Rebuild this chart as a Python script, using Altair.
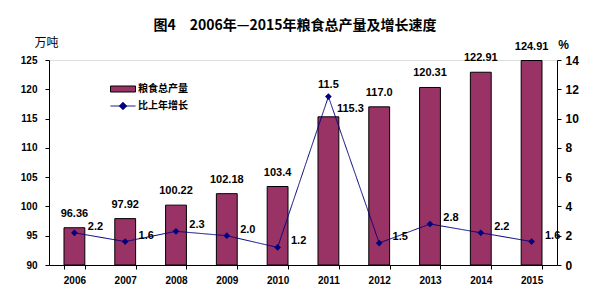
import altair as alt
import pandas as pd

years = ["2006", "2007", "2008", "2009", "2010", "2011", "2012", "2013", "2014", "2015"]
output = [96.36, 97.92, 100.22, 102.18, 103.4, 115.3, 117.0, 120.31, 122.91, 124.91]
output_labels = ["96.36", "97.92", "100.22", "102.18", "103.4", "115.3", "117.0", "120.31", "122.91", "124.91"]
growth = [2.2, 1.6, 2.3, 2.0, 1.2, 11.5, 1.5, 2.8, 2.2, 1.6]
growth_labels = ["2.2", "1.6", "2.3", "2.0", "1.2", "11.5", "1.5", "2.8", "2.2", "1.6"]
left_ticks = [90, 95, 100, 105, 110, 115, 120, 125]
right_ticks = [0, 2, 4, 6, 8, 10, 12, 14]

df = pd.DataFrame({
    "year": years,
    "output": output,
    "olab": output_labels,
    "growth": growth,
    "glab": growth_labels,
    "s1": ["粮食总产量"] * 10,
    "s2": ["比上年增长"] * 10,
})

NUM = "Liberation Sans"
CJK = "Noto Sans CJK SC"
BAR = "#993366"
LINE = "#000080"

x = alt.X("year:N", title=None, scale=alt.Scale(paddingInner=0.59, paddingOuter=0.295),
          axis=alt.Axis(labelAngle=0, labelFont=NUM, labelFontWeight="bold", labelFontSize=10,
                        labelColor="black", domainColor="black", tickColor="black",
                        tickBand="extent", tickSize=4, labelPadding=6))

yl_scale = alt.Scale(domain=[90, 125], zero=False, nice=False)
yl_axis = alt.Axis(values=left_ticks, labelOverlap=False, labelFont=NUM,
                   labelFontWeight="bold", labelFontSize=10, labelColor="black",
                   domainColor="black", tickColor="black", tickSize=4, labelPadding=8,
                   grid=False, title="万吨", titleAngle=0, titleX=-3, titleY=-18,
                   titleAlign="center", titleBaseline="middle", titleFont=CJK,
                   titleFontWeight="normal", titleFontSize=12, titleColor="black")

bars = alt.Chart(df).mark_bar(stroke="black", strokeWidth=1).encode(
    x=x,
    y=alt.Y("output:Q", scale=yl_scale, axis=yl_axis),
    y2=alt.datum(90),
    color=alt.Color("s1:N", scale=alt.Scale(domain=["粮食总产量"], range=[BAR]),
                    legend=alt.Legend(title=None, orient="none", legendX=61, legendY=16,
                                      symbolType="M-1,-0.24H1V0.24H-1Z", symbolSize=625,
                                      symbolStrokeColor="black", symbolStrokeWidth=1,
                                      labelFont=CJK, labelFontWeight="bold", labelFontSize=10,
                                      labelColor="black", labelOffset=2)),
)

bar_text = alt.Chart(df).transform_filter("datum.year != '2011'").mark_text(
    font=NUM, fontWeight="bold", fontSize=11, dy=-14, color="black").encode(
    x=x, y=alt.Y("output:Q", scale=yl_scale, axis=yl_axis), text="olab:N")

bar_text_2011 = alt.Chart(df).transform_filter("datum.year == '2011'").mark_text(
    font=NUM, fontWeight="bold", fontSize=11, dx=22, dy=-8, color="black").encode(
    x=x, y=alt.Y("output:Q", scale=yl_scale, axis=yl_axis), text="olab:N")

left = alt.layer(bars, bar_text, bar_text_2011)

yr_scale = alt.Scale(domain=[0, 14], nice=False)
yr_axis = alt.Axis(orient="right", values=right_ticks, labelOverlap=False, labelFont=NUM,
                   labelFontWeight="bold", labelFontSize=12, labelColor="black",
                   domainColor="black", tickColor="black", tickSize=4, labelPadding=4,
                   grid=False, title="%", titleAngle=0, titleX=6, titleY=-16,
                   titleAlign="center", titleBaseline="middle", titleFont=NUM,
                   titleFontWeight="bold", titleFontSize=12, titleColor="black")

line = alt.Chart(df).mark_line(color=LINE, strokeWidth=1).encode(
    x=x, y=alt.Y("growth:Q", scale=yr_scale, axis=yr_axis),
    strokeDash=alt.StrokeDash("s2:N", scale=alt.Scale(domain=["比上年增长"], range=[[1, 0]]),
                              legend=alt.Legend(title=None, orient="none", legendX=61, legendY=33,
                                                symbolType="M-1,0H1M0,-0.3L0.3,0L0,0.3L-0.3,0Z",
                                                symbolSize=625, symbolStrokeColor=LINE,
                                                symbolFillColor=LINE, symbolStrokeWidth=1,
                                                labelFont=CJK, labelFontWeight="bold",
                                                labelFontSize=10, labelColor="black",
                                                labelOffset=2)),
)

pts = alt.Chart(df).mark_point(filled=True, shape="diamond", color=LINE, size=45,
                               opacity=1).encode(
    x=x, y=alt.Y("growth:Q", scale=yr_scale, axis=yr_axis))

g_text = alt.Chart(df).transform_filter("datum.year != '2011'").mark_text(
    font=NUM, fontWeight="bold", fontSize=11, dx=21, dy=-6, color="black").encode(
    x=x, y=alt.Y("growth:Q", scale=yr_scale, axis=yr_axis), text="glab:N")

g_text_2011 = alt.Chart(df).transform_filter("datum.year == '2011'").mark_text(
    font=NUM, fontWeight="bold", fontSize=11, dy=-12, color="black").encode(
    x=x, y=alt.Y("growth:Q", scale=yr_scale, axis=yr_axis), text="glab:N")

right = alt.layer(line, pts, g_text, g_text_2011)

chart = alt.layer(left, right).resolve_scale(
    y="independent", color="independent", strokeDash="independent"
).properties(
    width=508, height=205,
    autosize=alt.AutoSizeParams(type="none"),
    padding={"left": 49, "top": 60, "right": 32, "bottom": 35},
    title=alt.TitleParams("图4　2006年—2015年粮食总产量及增长速度", font=CJK, fontWeight="bold",
                          fontSize=14, color="black", anchor="middle", offset=3, dx=-8),
).configure_view(stroke=None).configure(background="white")

chart.save("out.html", embed_options={"renderer": "svg", "actions": False})
